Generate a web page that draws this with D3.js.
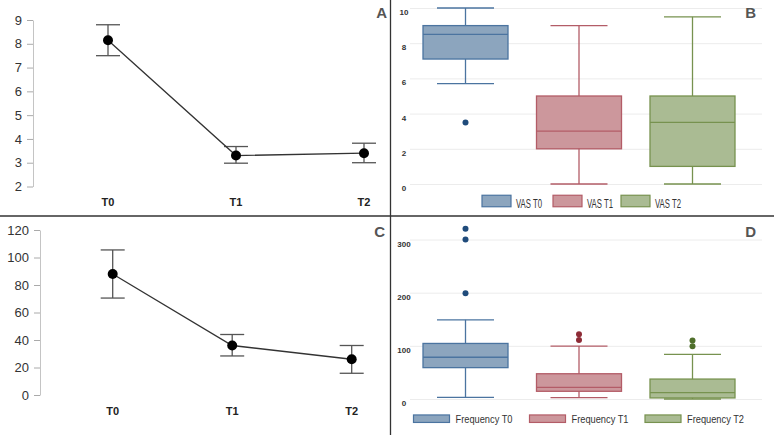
<!DOCTYPE html>
<html>
<head>
<meta charset="utf-8">
<script src="https://cdn.jsdelivr.net/npm/d3@7"></script>
<style>
  body { margin: 0; background: #fff; }
  svg { display: block; font-family: "Liberation Sans", Arial, sans-serif; }
</style>
</head>
<body>
<div id="chart"></div>
<script>
// time points
var timepoints = ["T0", "T1", "T2"];

// A: VAS mean with 95% CI
var vasMean = [8.15, 3.3, 3.4];
var vasLow  = [7.5, 2.98, 3.0];
var vasHigh = [8.8, 3.68, 3.82];
var vasTicks = [2, 3, 4, 5, 6, 7, 8, 9];

// C: frequency mean with 95% CI
var freqMean = [88, 36, 26];
var freqLow  = [70.5, 28.4, 15.8];
var freqHigh = [105.5, 44, 36];
var freqTicks = [0, 20, 40, 60, 80, 100, 120];

// B: VAS box plots (min, q1, median, q3, max)
var vasSeries = ["VAS T0", "VAS T1", "VAS T2"];
var vasMin = [5.7, 0, 0];
var vasQ1  = [7.1, 2, 1];
var vasMed = [8.5, 3, 3.5];
var vasQ3  = [9, 5, 5];
var vasMax = [10, 9, 9.5];
var vasOutliers = [[3.5], [], []];
var vasBoxTicks = [0, 2, 4, 6, 8, 10];

// D: frequency box plots
var freqSeries = ["Frequency T0", "Frequency T1", "Frequency T2"];
var freqMin = [3, 2.5, 0];
var freqQ1  = [59, 14.5, 2];
var freqMed = [78.5, 22, 12];
var freqQ3  = [104.5, 47.5, 37.5];
var freqMax = [149, 99.5, 84];
var freqOutliers = [[320, 300, 199], [122, 111], [110, 99]];
var freqBoxTicks = [0, 100, 200, 300];

var fills   = ["#8ca5be", "#cc979c", "#aabb93"];
var strokes = ["#4b74a0", "#b35c67", "#77924f"];
var dots    = ["#1f4b7b", "#8e2b36", "#4f6f2b"];

var svg = d3.select("#chart").append("svg")
    .attr("width", 774)
    .attr("height", 435);

function meanPanel(o) {
    var g = svg.append("g");
    var x = d3.scalePoint().domain(timepoints).range(o.xr);
    var y = d3.scaleLinear().domain(o.yd).range(o.yr);

    var ax = g.append("g")
        .attr("transform", "translate(" + o.axisX + ",0)")
        .call(d3.axisLeft(y).tickValues(o.ticks).tickFormat(d3.format("d"))
            .tickSize(6).tickPadding(5).tickSizeOuter(0));
    ax.select(".domain").attr("stroke", "#c4c4c4");
    ax.selectAll(".tick line").attr("stroke", "#aaa");
    ax.selectAll(".tick text").attr("fill", "#333").style("font-size", "13px");

    g.selectAll(".xl").data(timepoints).enter().append("text")
        .attr("x", function(d) { return x(d); })
        .attr("y", o.labelY)
        .attr("text-anchor", "middle")
        .style("font-weight", "bold")
        .style("font-size", "11px")
        .attr("fill", "#222")
        .text(function(d) { return d; });

    var idx = d3.range(timepoints.length);
    var bars = g.selectAll(".err").data(idx).enter().append("g").attr("stroke", "#555").attr("stroke-width", 1.3);
    bars.append("line")
        .attr("x1", function(i) { return x(timepoints[i]); })
        .attr("x2", function(i) { return x(timepoints[i]); })
        .attr("y1", function(i) { return y(o.low[i]); })
        .attr("y2", function(i) { return y(o.high[i]); });
    bars.append("line")
        .attr("x1", function(i) { return x(timepoints[i]) - 12; })
        .attr("x2", function(i) { return x(timepoints[i]) + 12; })
        .attr("y1", function(i) { return y(o.low[i]); })
        .attr("y2", function(i) { return y(o.low[i]); });
    bars.append("line")
        .attr("x1", function(i) { return x(timepoints[i]) - 12; })
        .attr("x2", function(i) { return x(timepoints[i]) + 12; })
        .attr("y1", function(i) { return y(o.high[i]); })
        .attr("y2", function(i) { return y(o.high[i]); });

    var line = d3.line()
        .x(function(i) { return x(timepoints[i]); })
        .y(function(i) { return y(o.mean[i]); });
    g.append("path").datum(idx)
        .attr("d", line)
        .attr("fill", "none")
        .attr("stroke", "#333")
        .attr("stroke-width", 1.3);

    g.selectAll(".pt").data(idx).enter().append("circle")
        .attr("cx", function(i) { return x(timepoints[i]); })
        .attr("cy", function(i) { return y(o.mean[i]); })
        .attr("r", 5)
        .attr("fill", "#000");

    g.append("text")
        .attr("x", o.letterX).attr("y", o.letterY)
        .attr("text-anchor", "end")
        .style("font-weight", "bold").style("font-size", "15px")
        .attr("fill", "#555")
        .text(o.letter);
}

function boxPanel(o) {
    var g = svg.append("g");
    var x = d3.scalePoint().domain(o.series).range([465.5, 692.5]);
    var y = d3.scaleLinear().domain(o.yd).range(o.yr);

    var grid = g.append("g")
        .attr("transform", "translate(410,0)")
        .call(d3.axisLeft(y).tickValues(o.ticks).tickSize(-352).tickFormat(""));
    grid.select(".domain").remove();
    grid.selectAll(".tick line").attr("stroke", "#ececec");

    g.selectAll(".yl").data(o.ticks).enter().append("text")
        .attr("x", 404)
        .attr("y", function(d) { return y(d) + 7; })
        .attr("text-anchor", "middle")
        .style("font-size", "8px").style("font-weight", "bold")
        .attr("fill", "#333")
        .text(function(d) { return d; });

    var bw = 85, cw = 57;
    var idx = d3.range(o.series.length);
    var b = g.selectAll(".box").data(idx).enter().append("g")
        .attr("stroke", function(i) { return strokes[i]; })
        .attr("stroke-width", 1.3);
    b.append("line")
        .attr("x1", function(i) { return x(o.series[i]); })
        .attr("x2", function(i) { return x(o.series[i]); })
        .attr("y1", function(i) { return y(o.min[i]); })
        .attr("y2", function(i) { return y(o.max[i]); });
    b.append("line")
        .attr("x1", function(i) { return x(o.series[i]) - cw / 2; })
        .attr("x2", function(i) { return x(o.series[i]) + cw / 2; })
        .attr("y1", function(i) { return y(o.min[i]); })
        .attr("y2", function(i) { return y(o.min[i]); });
    b.append("line")
        .attr("x1", function(i) { return x(o.series[i]) - cw / 2; })
        .attr("x2", function(i) { return x(o.series[i]) + cw / 2; })
        .attr("y1", function(i) { return y(o.max[i]); })
        .attr("y2", function(i) { return y(o.max[i]); });
    b.append("rect")
        .attr("x", function(i) { return x(o.series[i]) - bw / 2; })
        .attr("width", bw)
        .attr("y", function(i) { return y(o.q3[i]); })
        .attr("height", function(i) { return y(o.q1[i]) - y(o.q3[i]); })
        .attr("fill", function(i) { return fills[i]; });
    b.append("line")
        .attr("x1", function(i) { return x(o.series[i]) - bw / 2; })
        .attr("x2", function(i) { return x(o.series[i]) + bw / 2; })
        .attr("y1", function(i) { return y(o.med[i]); })
        .attr("y2", function(i) { return y(o.med[i]); });

    idx.forEach(function(i) {
        g.selectAll(".out" + i).data(o.outliers[i]).enter().append("circle")
            .attr("cx", x(o.series[i]))
            .attr("cy", function(d) { return y(d); })
            .attr("r", 3)
            .attr("fill", dots[i]);
    });

    var lg = g.selectAll(".leg").data(idx).enter().append("g");
    lg.append("rect")
        .attr("x", function(i) { return o.legX[i]; })
        .attr("y", o.legY - o.swH / 2)
        .attr("width", o.swW).attr("height", o.swH)
        .attr("fill", function(i) { return fills[i]; })
        .attr("stroke", function(i) { return strokes[i]; })
        .attr("stroke-width", 1.2);
    lg.append("text")
        .attr("x", function(i) { return o.legX[i] + o.swW + o.gap; })
        .attr("y", o.textY)
        .attr("textLength", o.textLen)
        .attr("lengthAdjust", "spacingAndGlyphs")
        .style("font-size", o.legFont)
        .attr("fill", "#333")
        .text(function(i) { return o.series[i]; });

    g.append("text")
        .attr("x", 756).attr("y", o.letterY)
        .attr("text-anchor", "end")
        .style("font-weight", "bold").style("font-size", "15px")
        .attr("fill", "#555")
        .text(o.letter);
}

meanPanel({
    xr: [108, 364], yd: [2, 9], yr: [186.5, 20], ticks: vasTicks, axisX: 33,
    mean: vasMean, low: vasLow, high: vasHigh, labelY: 206,
    letter: "A", letterX: 387, letterY: 18
});

meanPanel({
    xr: [112.7, 351.7], yd: [0, 120], yr: [395, 230], ticks: freqTicks, axisX: 40,
    mean: freqMean, low: freqLow, high: freqHigh, labelY: 415,
    letter: "C", letterX: 385, letterY: 237
});

boxPanel({
    series: vasSeries, yd: [0, 10], yr: [184, 8], ticks: vasBoxTicks,
    min: vasMin, q1: vasQ1, med: vasMed, q3: vasQ3, max: vasMax, outliers: vasOutliers,
    legX: [482, 553, 621], legY: 201, swW: 29, swH: 11.5, gap: 5, textLen: 26, textY: 207.5,
    legFont: "12.5px",
    letter: "B", letterY: 18
});

boxPanel({
    series: freqSeries, yd: [0, 300], yr: [399, 239.5], ticks: freqBoxTicks,
    min: freqMin, q1: freqQ1, med: freqMed, q3: freqQ3, max: freqMax, outliers: freqOutliers,
    legX: [413.5, 529.5, 645], legY: 418.7, swW: 36, swH: 7.5, gap: 6, textLen: 57, textY: 423,
    legFont: "11px",
    letter: "D", letterY: 237
});

// panel dividers
svg.append("line").attr("x1", 390.5).attr("x2", 390.5).attr("y1", 0).attr("y2", 435)
    .attr("stroke", "#333").attr("stroke-width", 1.3);
svg.append("line").attr("x1", 0).attr("x2", 774).attr("y1", 216).attr("y2", 216)
    .attr("stroke", "#333").attr("stroke-width", 1.3);
</script>
</body>
</html>
